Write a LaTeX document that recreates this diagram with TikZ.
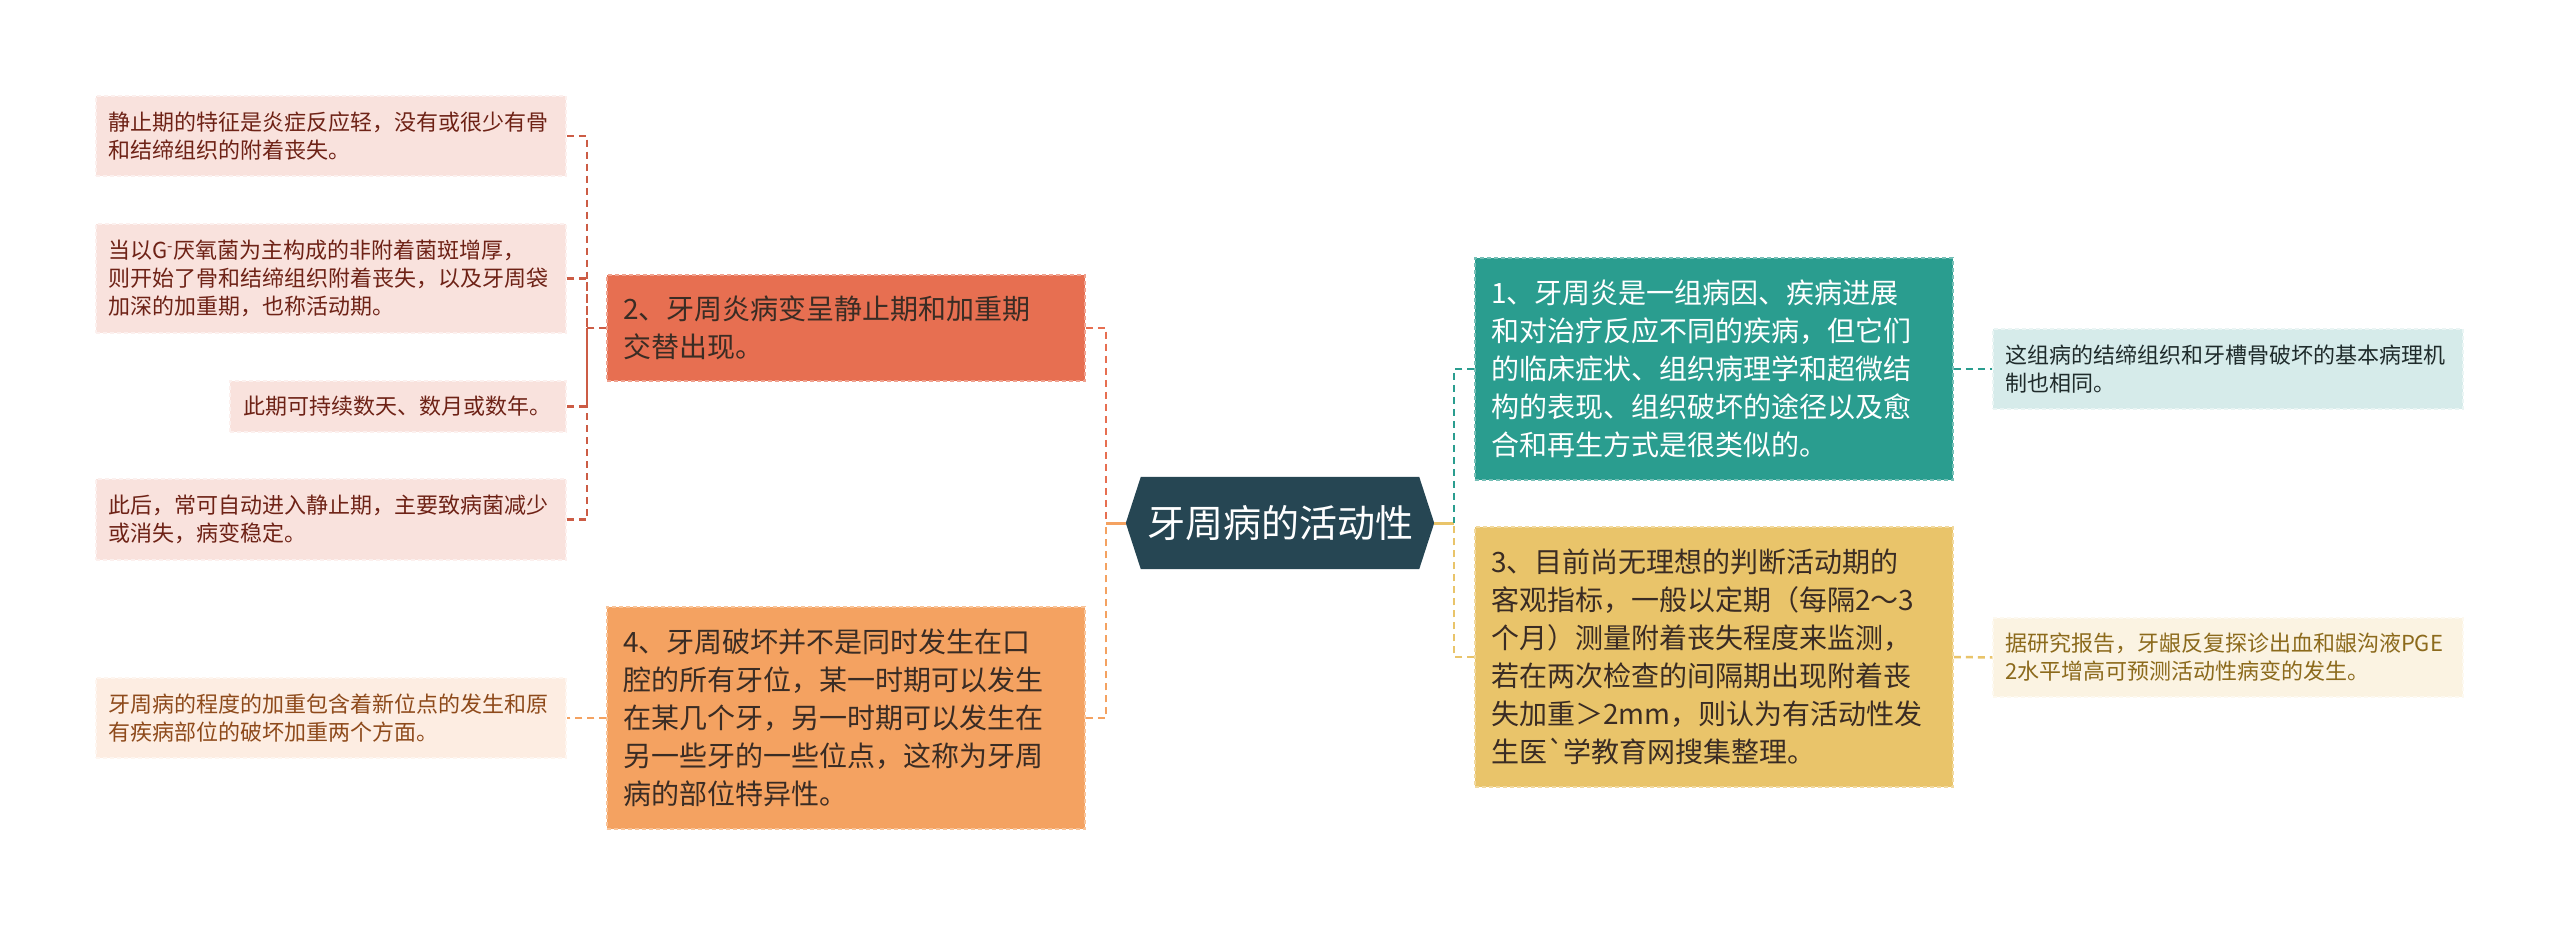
\documentclass[tikz,border=0pt]{standalone}
\usepackage{fontspec}
\setmainfont{Noto Sans CJK SC}
\usetikzlibrary{backgrounds,calc}
\definecolor{cDark}{HTML}{264653}
\definecolor{cTeal}{HTML}{2A9D8F}
\definecolor{cYellow}{HTML}{E9C46A}
\definecolor{cOrange}{HTML}{F4A261}
\definecolor{cCoral}{HTML}{E76F51}
\definecolor{cRust}{HTML}{CC5C45}
\definecolor{fPink}{HTML}{F9E2DD}
\definecolor{fPeach}{HTML}{FDEDE2}
\definecolor{fMint}{HTML}{D6EBEA}
\definecolor{fCream}{HTML}{FBF3E2}
\definecolor{tMaroon}{HTML}{6E2216}
\definecolor{tBrown}{HTML}{8E4A1B}
\definecolor{tGold}{HTML}{8C6A1C}
\definecolor{tInk}{HTML}{1F2B2B}
\definecolor{tDarkBox}{HTML}{3A2C24}
\tikzset{
  boxbase/.style={rectangle, align=left, inner ysep=0pt, line width=1.5pt, dash pattern=on 4pt off 3pt},
  leafbox/.style={boxbase, inner xsep=12pt, text width=446pt, font=\fontsize{22}{28}\selectfont},
  pinkleaf/.style={leafbox, fill=fPink, draw=white!50!fPink, text=tMaroon},
  peachleaf/.style={leafbox, fill=fPeach, draw=white!50!fPeach, text=tBrown},
  mintleaf/.style={leafbox, fill=fMint, draw=white!50!fMint, text=tInk},
  creamleaf/.style={leafbox, fill=fCream, draw=white!50!fCream, text=tGold},
  mainbox/.style={boxbase, inner xsep=16pt, text width=446pt, font=\fontsize{28}{38}\selectfont},
  coralbox/.style={mainbox, fill=cCoral, draw=white!35!cCoral, text=tDarkBox},
  orangebox/.style={mainbox, fill=cOrange, draw=white!35!cOrange, text=tDarkBox},
  tealbox/.style={mainbox, fill=cTeal, draw=white!35!cTeal, text=white},
  yellowbox/.style={mainbox, fill=cYellow, draw=white!35!cYellow, text=tDarkBox},
  centre/.style={rectangle, inner sep=0pt, minimum width=308pt, minimum height=92pt, text=white, font=\fontsize{38}{44}\selectfont},
  conn/.style={line width=2.5pt, dash pattern=on 7pt off 5pt},
  solidconn/.style={line width=3pt}
}
\begin{document}
\begin{tikzpicture}[x=1pt,y=-1pt]
\useasboundingbox (0,0) rectangle (2560,925);

% central node
\node[centre] (c) at (1280,523) {牙周病的活动性};

% main boxes
\node[coralbox, minimum height=106pt] (b2) at (846,328) {2、牙周炎病变呈静止期和加重期\\交替出现。};
\node[orangebox, minimum height=222pt] (b4) at (846,718) {4、牙周破坏并不是同时发生在口\\腔的所有牙位，某一时期可以发生\\在某几个牙，另一时期可以发生在\\另一些牙的一些位点，这称为牙周\\病的部位特异性。};
\node[tealbox, minimum height=222pt] (b1) at (1714,369) {1、牙周炎是一组病因、疾病进展\\和对治疗反应不同的疾病，但它们\\的临床症状、组织病理学和超微结\\构的表现、组织破坏的途径以及愈\\合和再生方式是很类似的。};
\node[yellowbox, minimum height=260pt] (b3) at (1714,657) {3、目前尚无理想的判断活动期的\\客观指标，一般以定期（每隔2～3\\个月）测量附着丧失程度来监测，\\若在两次检查的间隔期出现附着丧\\失加重＞2mm，则认为有活动性发\\生医\textasciigrave 学教育网搜集整理。};

% leaves
\node[pinkleaf, minimum height=80pt] (l1) at (331,136) {静止期的特征是炎症反应轻，没有或很少有骨\\和结缔组织的附着丧失。};
\node[pinkleaf, minimum height=109pt] (l2) at (331,278.5) {当以G\textsuperscript{-}厌氧菌为主构成的非附着菌斑增厚，\\则开始了骨和结缔组织附着丧失，以及牙周袋\\加深的加重期，也称活动期。};
\node[pinkleaf, minimum height=51pt, text width=310pt, inner xsep=13pt] (l3) at (398,406.5) {此期可持续数天、数月或数年。};
\node[pinkleaf, minimum height=81pt] (l4) at (331,519.5) {此后，常可自动进入静止期，主要致病菌减少\\或消失，病变稳定。};
\node[peachleaf, minimum height=80pt] (l5) at (331,718) {牙周病的程度的加重包含着新位点的发生和原\\有疾病部位的破坏加重两个方面。};
\node[mintleaf, minimum height=80pt] (r1) at (2228,369) {这组病的结缔组织和牙槽骨破坏的基本病理机\\制也相同。};
\node[creamleaf, minimum height=79pt] (r3) at (2228,657.5) {据研究报告，牙龈反复探诊出血和龈沟液PGE\\2水平增高可预测活动性病变的发生。};

% junction points
\coordinate (jl) at (1106,523);
\coordinate (jr) at (1454,523);
\coordinate (jb2) at (587,328);

% background: white page and hexagon of the central node
\begin{scope}[on background layer]
\fill[white] (0,0) rectangle (2560,925);
\fill[cDark] (c.west) -- ($(c.north west)+(15,0)$) -- ($(c.north east)+(-15,0)$) -- (c.east)
  -- ($(c.south east)+(-15,0)$) -- ($(c.south west)+(15,0)$) -- cycle;
\end{scope}

% connectors from the centre
\draw[solidconn, cOrange] (c.west) -- (jl);
\draw[conn, cCoral] (b2.east) -| (jl);
\draw[conn, cOrange] (b4.east) -| (jl);
\draw[solidconn, cYellow] (c.east) -- (jr);
\draw[conn, cTeal] (b1.west) -| (jr);
\draw[conn, cYellow] (b3.west) -| (jr);

% connectors to leaves
\draw[conn, cRust] (b2.west) -- (jb2);
\draw[conn, cRust] (l1.east) -| (jb2);
\draw[conn, cRust] (l2.east) -| (jb2);
\draw[conn, cRust] (l3.east) -| (jb2);
\draw[conn, cRust] (l4.east) -| (jb2);
\draw[conn, cOrange] (b4.west) -- (l5.east);
\draw[conn, cTeal] (b1.east) -- (r1.west);
\draw[conn, cYellow] (b3.east) -- (r3.west);
\end{tikzpicture}
\end{document}
